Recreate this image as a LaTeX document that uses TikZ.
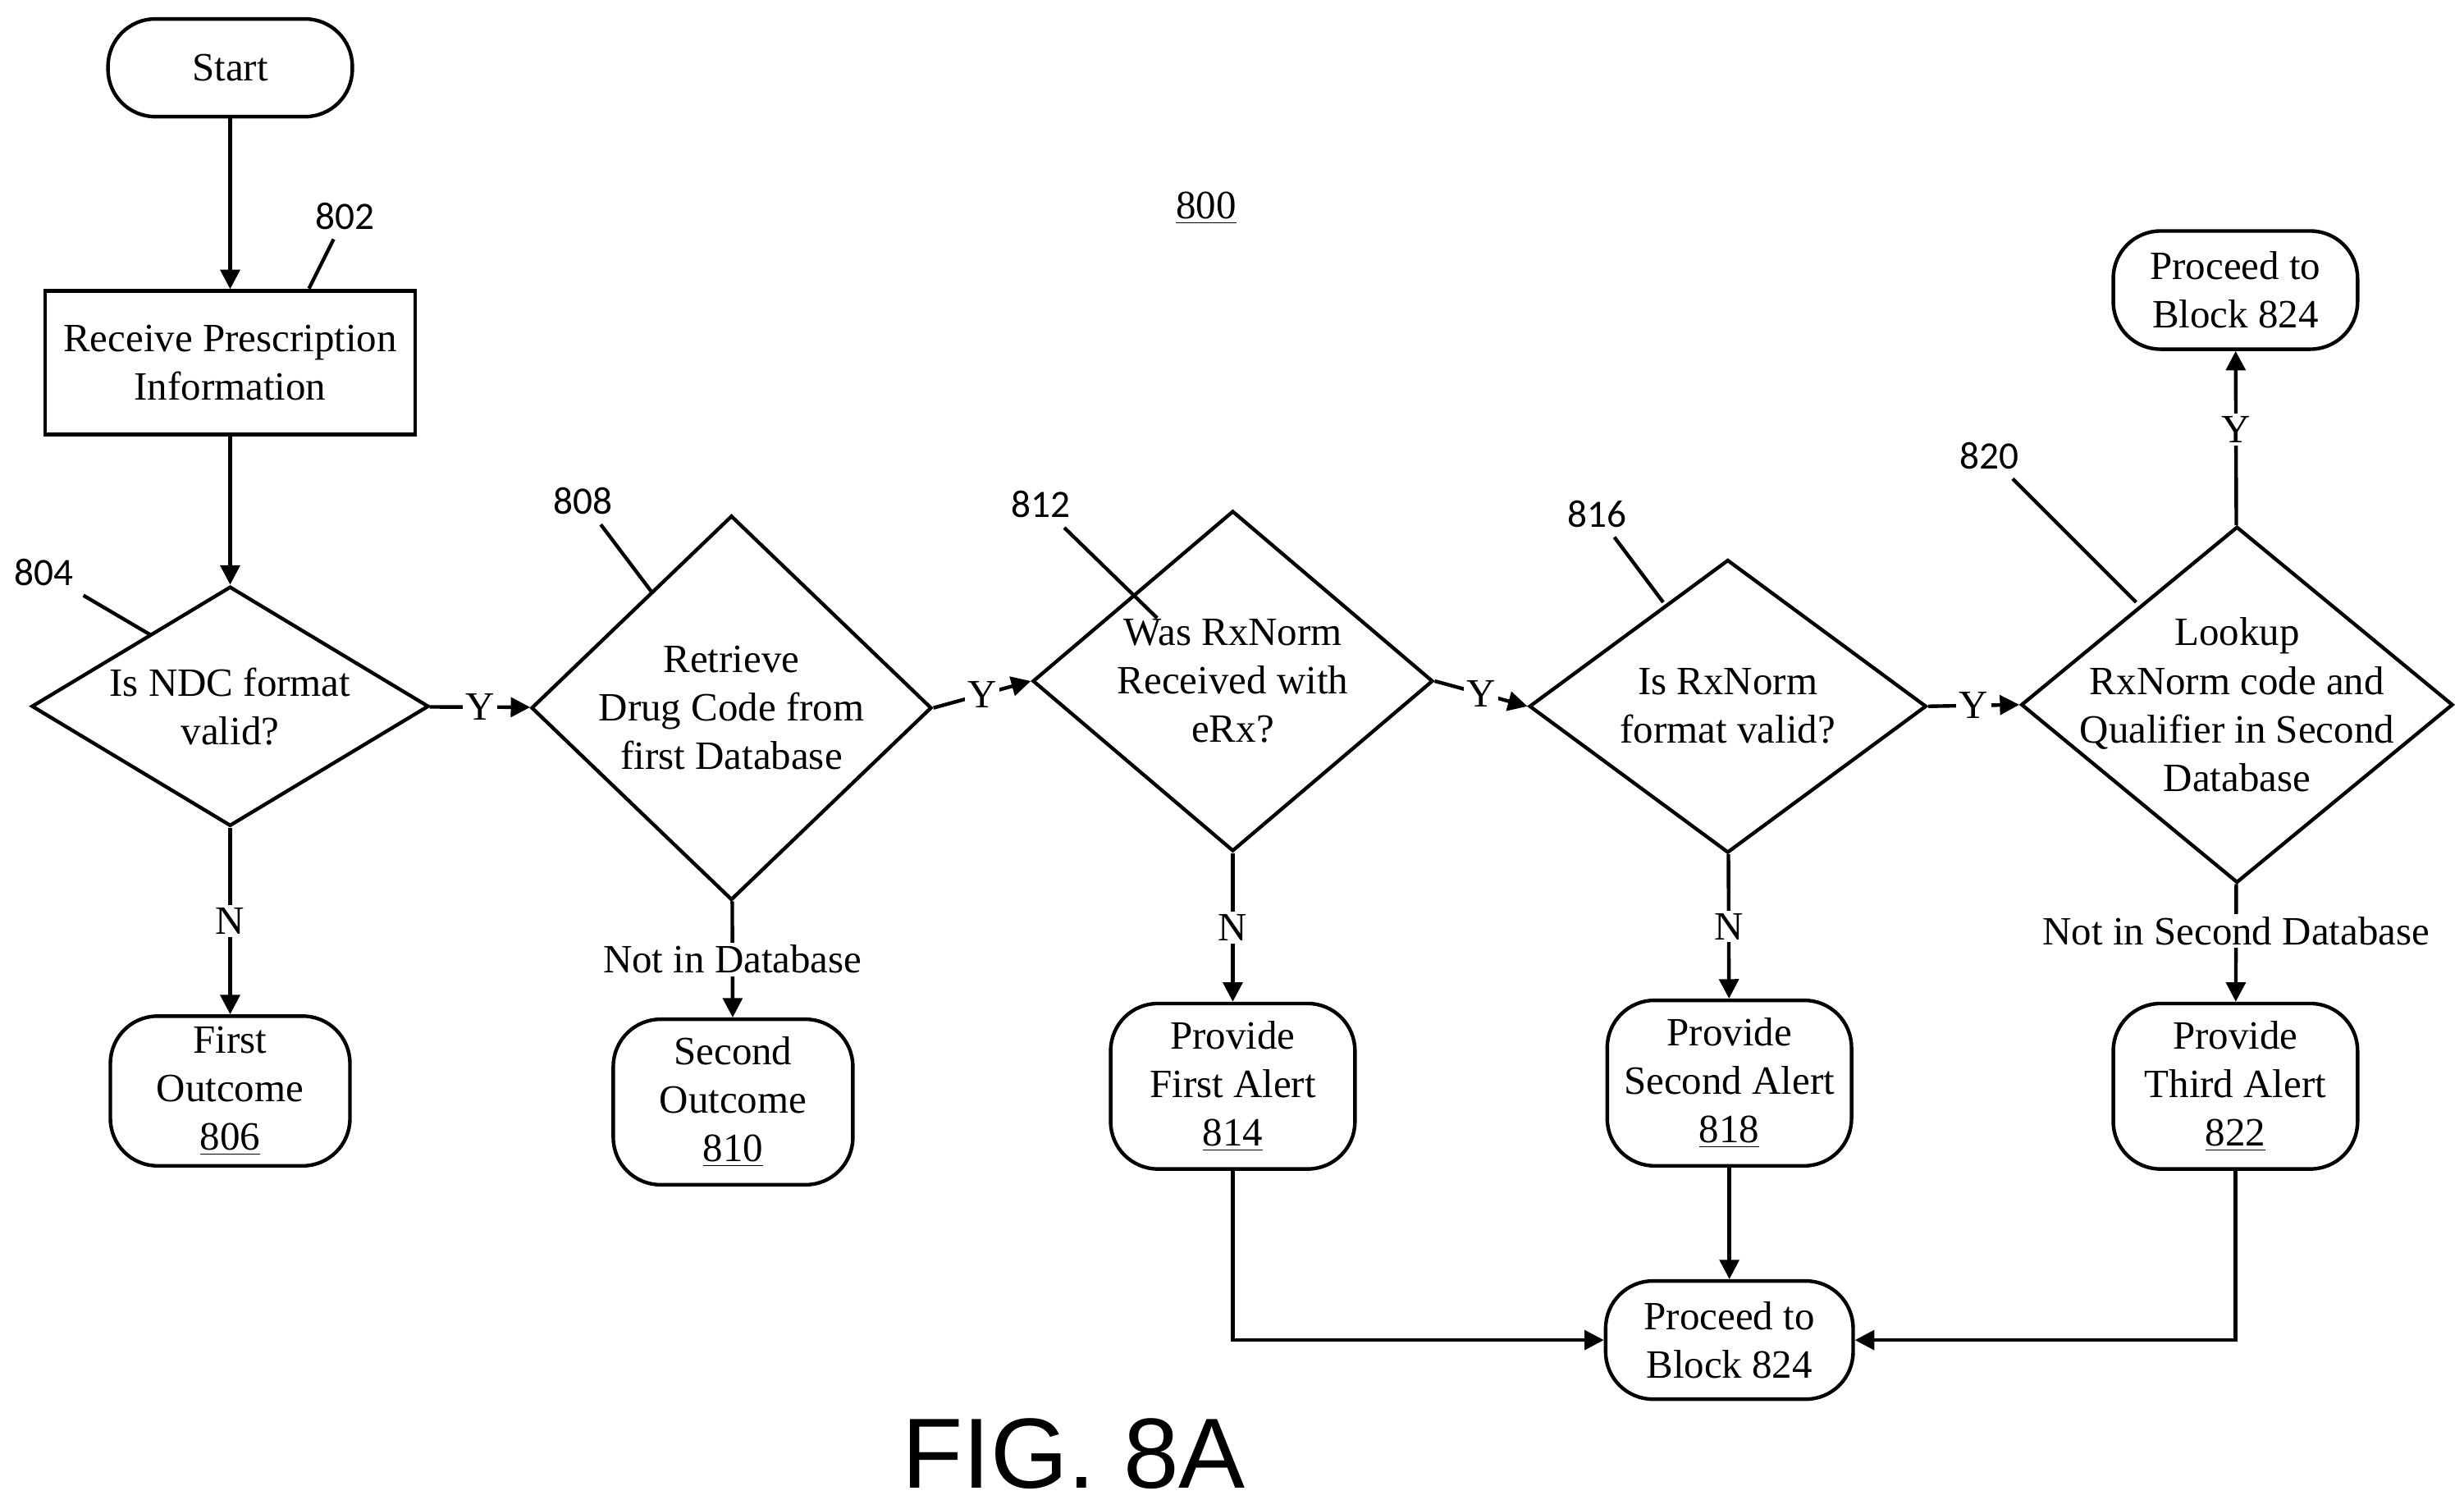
\documentclass[tikz,border=0pt]{standalone}
\usepackage{fontspec}
\setmainfont{Liberation Serif}
\newfontfamily\numf{Carlito}
\newfontfamily\figf{Liberation Sans}
\usetikzlibrary{shapes.geometric,arrows.meta}
\begin{document}
\begin{tikzpicture}[x=0.02cm,y=-0.02cm,
  every node/.style={font=\fontsize{14.5}{17.5}\selectfont},
  base/.style={draw,line width=1.3pt,align=center,inner sep=0pt},
  term/.style={base,rounded corners=0.6cm},
  box/.style={base},
  dia/.style={base,diamond},
  txt/.style={align=center},
  arr/.style={line width=1.3pt,-{Triangle[length=7pt,width=7pt]}},
  ln/.style={line width=1.3pt},
  num/.style={font=\numf\fontsize{14}{16}\selectfont},
  lab/.style={fill=white,inner sep=1pt}]
\useasboundingbox (0,0) rectangle (1563,957);
\node[term,minimum width=3.1cm,minimum height=1.24cm] (start) at (146,43) {Start};
\node[box,minimum width=4.7cm,minimum height=1.82cm] (b802) at (146,230) {Receive Prescription\\Information};
\node[dia,minimum width=5.04cm,minimum height=3.04cm] (d804) at (146,448) {};
\node[txt] (t804) at (146,448) {Is NDC format\\valid?};
\node[dia,minimum width=5.08cm,minimum height=4.88cm] (d808) at (464,449) {};
\node[txt] (t808) at (464,449) {Retrieve\\Drug Code from\\first Database};
\node[dia,minimum width=5.08cm,minimum height=4.32cm] (d812) at (782,432) {};
\node[txt] (t812) at (782,432) {Was RxNorm\\Received with\\eRx?};
\node[dia,minimum width=5.04cm,minimum height=3.72cm] (d816) at (1096,448) {};
\node[txt] (t816) at (1096,448) {Is RxNorm\\format valid?};
\node[dia,minimum width=5.48cm,minimum height=4.52cm] (d820) at (1419,447) {};
\node[txt] (t820) at (1419,447) {Lookup\\RxNorm code and\\Qualifier in Second\\Database};
\node[term,minimum width=3.1cm,minimum height=1.5cm] (p1) at (1418,184) {Proceed to\\Block 824};
\node[term,minimum width=3.04cm,minimum height=1.9cm] (t806) at (146,692) {First\\Outcome\\\underline{806}};
\node[term,minimum width=3.04cm,minimum height=2.1cm] (t810) at (465,699) {Second\\Outcome\\\underline{810}};
\node[term,minimum width=3.1cm,minimum height=2.1cm] (t814) at (782,689) {Provide\\First Alert\\\underline{814}};
\node[term,minimum width=3.1cm,minimum height=2.1cm] (t818) at (1097,687) {Provide\\Second Alert\\\underline{818}};
\node[term,minimum width=3.1cm,minimum height=2.1cm] (t822) at (1418,689) {Provide\\Third Alert\\\underline{822}};
\node[term,minimum width=3.14cm,minimum height=1.5cm] (p2) at (1097,850) {Proceed to\\Block 824};
\node (n800) at (765,132) {\underline{800}};
\node[font=\figf\fontsize{36}{40}\selectfont] (fig) at (681,922) {FIG. 8A};
% reference numerals
\node[num] (l802) at (219,137) {802};
\node[num] (l804) at (28,363) {804};
\node[num] (l808) at (370,318) {808};
\node[num] (l812) at (660,320) {812};
\node[num] (l816) at (1013,326) {816};
\node[num] (l820) at (1262,289) {820};
\draw[ln] (196,183) -- (l802);
\draw[ln] (96,403) -- (l804);
\draw[ln] (413,375) -- (l808);
\draw[ln] (734,392) -- (l812);
\draw[ln] (1055,382) -- (l816);
\draw[ln] (1355,382) -- (l820);
% connectors
\draw[arr] (start) -- (b802);
\draw[arr] (b802) -- (d804);
\draw[arr] (d804) -- node[lab]{Y} (d808);
\draw[arr] (d808.east) -- node[lab]{Y} (d812.west);
\draw[arr] (d812.east) -- node[lab]{Y} (d816.west);
\draw[arr] (d816.east) -- node[lab]{Y} (d820.west);
\draw[arr] (d820) -- node[lab,pos=0.55]{Y} (p1);
\draw[arr] (d804) -- node[lab,pos=0.5]{N} (t806);
\draw[arr] (d808) -- node[lab,pos=0.5]{Not in Database} (t810);
\draw[arr] (d812) -- node[lab,pos=0.5]{N} (t814);
\draw[arr] (d816) -- node[lab,pos=0.5]{N} (t818);
\draw[arr] (d820) -- node[lab,pos=0.4]{Not in Second Database} (t822);
\draw[arr] (t818) -- (p2);
\draw[arr] (t814) |- (p2);
\draw[arr] (t822) |- (p2);
\end{tikzpicture}
\end{document}
